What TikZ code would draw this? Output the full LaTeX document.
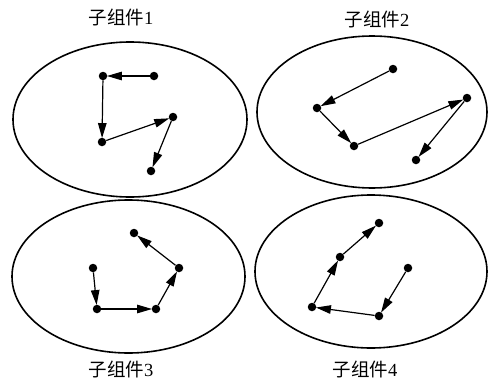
\documentclass[tikz,border=0pt]{standalone}
\usepackage{fontspec}
\setmainfont{Liberation Serif}
\newfontfamily\cjk{Noto Sans CJK SC}
\usetikzlibrary{arrows.meta}
\begin{document}
\begin{tikzpicture}[x=1pt,y=-1pt,
  dot/.style={circle,fill=black,inner sep=0pt,minimum size=8.5pt},
  link/.style={line width=1.2pt,-{Triangle[length=15pt,width=8.5pt]},shorten >=-0.5pt},
  ring/.style={line width=1.6pt},
  title/.style={font=\fontsize{18.5}{21}\selectfont}]
\useasboundingbox (0,0) rectangle (488,383);
% ellipses
\draw[ring] (130,119.5) ellipse [x radius=117, y radius=77.5];
\draw[ring] (372,112) ellipse [x radius=115, y radius=76];
\draw[ring] (128.5,276.5) ellipse [x radius=116.5, y radius=76.5];
\draw[ring] (371,271.5) ellipse [x radius=116, y radius=76.5];
% titles
\node[title] (t1) at (121,17.5) {{\cjk 子组件}1};
\node[title] (t2) at (377,19) {{\cjk 子组件}2};
\node[title] (t3) at (121,369.5) {{\cjk 子组件}3};
\node[title] (t4) at (365,369) {{\cjk 子组件}4};
% group 1
\node[dot] (a1) at (154,76) {};
\node[dot] (a2) at (103,76) {};
\node[dot] (a3) at (102,142) {};
\node[dot] (a4) at (173,117) {};
\node[dot] (a5) at (151,171) {};
\draw[link] (a1) -- (a2);
\draw[link] (a2) -- (a3);
\draw[link] (a3) -- (a4);
\draw[link] (a4) -- (a5);
% group 2
\node[dot] (b1) at (393,69) {};
\node[dot] (b2) at (317,108) {};
\node[dot] (b3) at (354,146) {};
\node[dot] (b4) at (467,98) {};
\node[dot] (b5) at (416,160) {};
\draw[link] (b1) -- (b2);
\draw[link] (b2) -- (b3);
\draw[link] (b3) -- (b4);
\draw[link] (b4) -- (b5);
% group 3
\node[dot] (c1) at (93,268) {};
\node[dot] (c2) at (97,309) {};
\node[dot] (c3) at (156,309) {};
\node[dot] (c4) at (179,268) {};
\node[dot] (c5) at (134,233) {};
\draw[link] (c1) -- (c2);
\draw[link] (c2) -- (c3);
\draw[link] (c3) -- (c4);
\draw[link] (c4) -- (c5);
% group 4
\node[dot] (d1) at (408,268) {};
\node[dot] (d2) at (379,316) {};
\node[dot] (d3) at (312,307) {};
\node[dot] (d4) at (340,257) {};
\node[dot] (d5) at (379,223) {};
\draw[link] (d1) -- (d2);
\draw[link] (d2) -- (d3);
\draw[link] (d3) -- (d4);
\draw[link] (d4) -- (d5);
\end{tikzpicture}
\end{document}
